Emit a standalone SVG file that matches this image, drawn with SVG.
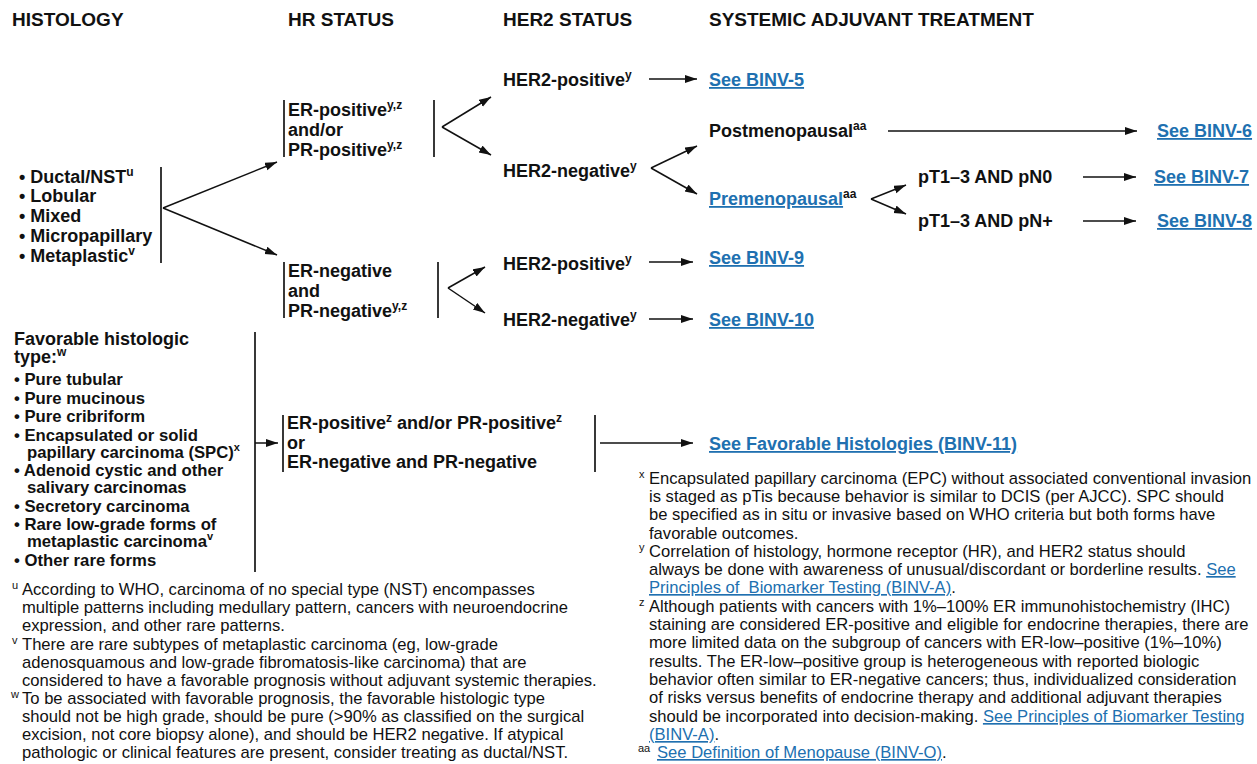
<svg xmlns="http://www.w3.org/2000/svg" width="1257" height="764" viewBox="0 0 1257 764">
<style>
text{font-family:"Liberation Sans",Arial,sans-serif;fill:#111}
.h{font-size:19px;font-weight:bold}
.b{font-size:18px;font-weight:bold}
.l{font-size:16.7px;font-weight:bold}
.f{font-size:16.6px}
.s{font-size:12px}
.fs{font-size:11px}
.lk{fill:#2070b0;text-decoration:underline}
.bar{stroke:#222;stroke-width:1.8;fill:none}
.c{stroke:#111;stroke-width:1.5;fill:none;marker-end:url(#ah)}
</style>
<defs>
<marker id="ah" markerUnits="userSpaceOnUse" markerWidth="13" markerHeight="9" refX="12" refY="4" orient="auto">
<path d="M0,0 L12,4 L0,8 z" fill="#111"/>
</marker>
</defs>
<rect width="1257" height="764" fill="#fff"/>

<g id="headers">
<text class="h" x="12" y="26">HISTOLOGY</text>
<text class="h" x="288" y="26">HR STATUS</text>
<text class="h" x="503" y="26">HER2 STATUS</text>
<text class="h" x="709" y="26">SYSTEMIC ADJUVANT TREATMENT</text>
</g>

<g id="histology">
<line class="bar" x1="161" y1="167" x2="161" y2="263"/>
<text class="b" x="19" y="183">• Ductal/NST<tspan class="s" dy="-7">u</tspan></text>
<text class="b" x="19" y="202">• Lobular</text>
<text class="b" x="19" y="222">• Mixed</text>
<text class="b" x="19" y="242">• Micropapillary</text>
<text class="b" x="19" y="262">• Metaplastic<tspan class="s" dy="-7">v</tspan></text>
</g>

<g id="hr-positive">
<line class="bar" x1="284" y1="100" x2="284" y2="157"/>
<line class="bar" x1="434" y1="100" x2="434" y2="157"/>
<text class="b" x="288" y="116">ER-positive<tspan class="s" dy="-7">y,z</tspan></text>
<text class="b" x="288" y="136">and/or</text>
<text class="b" x="288" y="156">PR-positive<tspan class="s" dy="-7">y,z</tspan></text>
</g>

<g id="hr-negative">
<line class="bar" x1="284" y1="262" x2="284" y2="318"/>
<line class="bar" x1="438" y1="262" x2="438" y2="318"/>
<text class="b" x="288" y="277">ER-negative</text>
<text class="b" x="288" y="297">and</text>
<text class="b" x="288" y="317">PR-negative<tspan class="s" dy="-7">y,z</tspan></text>
</g>

<g id="her2-pos-1"><text class="b" x="503" y="86">HER2-positive<tspan class="s" dy="-7">y</tspan></text></g>
<g id="binv5"><text class="b lk" x="709" y="86">See BINV-5</text></g>
<g id="her2-neg-1"><text class="b" x="503" y="177">HER2-negative<tspan class="s" dy="-7">y</tspan></text></g>
<g id="postmeno"><text class="b" x="709" y="137">Postmenopausal<tspan class="s" dy="-7">aa</tspan></text></g>
<g id="binv6"><text class="b lk" x="1157" y="137">See BINV-6</text></g>
<g id="premeno"><text class="b" x="709" y="205"><tspan class="lk">Premenopausal</tspan><tspan class="s" dy="-7">aa</tspan></text></g>
<g id="pn0"><text class="b" x="918" y="183">pT1–3 AND pN0</text></g>
<g id="pnplus"><text class="b" x="918" y="227">pT1–3 AND pN+</text></g>
<g id="binv7"><text class="b lk" x="1154" y="183">See BINV-7</text></g>
<g id="binv8"><text class="b lk" x="1157" y="227">See BINV-8</text></g>
<g id="her2-pos-2"><text class="b" x="503" y="270">HER2-positive<tspan class="s" dy="-7">y</tspan></text></g>
<g id="binv9"><text class="b lk" x="709" y="264">See BINV-9</text></g>
<g id="her2-neg-2"><text class="b" x="503" y="326">HER2-negative<tspan class="s" dy="-7">y</tspan></text></g>
<g id="binv10"><text class="b lk" x="709" y="326">See BINV-10</text></g>

<g id="favorable">
<line class="bar" x1="255" y1="332" x2="255" y2="572"/>
<text class="b" x="14" y="345">Favorable histologic</text>
<text class="b" x="14" y="363">type:<tspan class="s" dy="-7">w</tspan></text>
<text class="l" x="14" y="385">• Pure tubular</text>
<text class="l" x="14" y="403.5">• Pure mucinous</text>
<text class="l" x="14" y="422">• Pure cribriform</text>
<text class="l" x="14" y="440.5">• Encapsulated or solid</text>
<text class="l" x="27" y="457.5">papillary carcinoma (SPC)<tspan class="fs" dy="-7">x</tspan></text>
<text class="l" x="14" y="476">• Adenoid cystic and other</text>
<text class="l" x="27" y="493">salivary carcinomas</text>
<text class="l" x="14" y="511.5">• Secretory carcinoma</text>
<text class="l" x="14" y="529.5">• Rare low-grade forms of</text>
<text class="l" x="27" y="547">metaplastic carcinoma<tspan class="fs" dy="-7">v</tspan></text>
<text class="l" x="14" y="566">• Other rare forms</text>
</g>

<g id="fav-hr">
<line class="bar" x1="283" y1="415" x2="283" y2="472"/>
<line class="bar" x1="595" y1="415" x2="595" y2="472"/>
<text class="b" x="287" y="429">ER-positive<tspan class="s" dy="-7">z</tspan><tspan dy="7"> and/or PR-positive</tspan><tspan class="s" dy="-7">z</tspan></text>
<text class="b" x="287" y="449">or</text>
<text class="b" x="287" y="468">ER-negative and PR-negative</text>
</g>
<g id="binv11"><text class="b lk" x="709" y="450">See Favorable Histologies (BINV-11)</text></g>

<g id="connectors">
<line class="c" x1="163" y1="208" x2="277" y2="162"/>
<line class="c" x1="163" y1="208" x2="277" y2="255"/>
<line class="c" x1="442" y1="127" x2="491" y2="97"/>
<line class="c" x1="442" y1="127" x2="491" y2="155"/>
<line class="c" x1="649" y1="79" x2="697" y2="79"/>
<line class="c" x1="651" y1="168" x2="697" y2="146"/>
<line class="c" x1="651" y1="168" x2="697" y2="194"/>
<line class="c" x1="888" y1="131" x2="1137" y2="131"/>
<line class="c" x1="871" y1="199" x2="906" y2="185"/>
<line class="c" x1="871" y1="199" x2="906" y2="214"/>
<line class="c" x1="1083" y1="177" x2="1136" y2="177"/>
<line class="c" x1="1083" y1="221" x2="1136" y2="221"/>
<line class="c" x1="448" y1="288" x2="485" y2="267"/>
<line class="c" x1="448" y1="288" x2="485" y2="313"/>
<line class="c" x1="649" y1="262" x2="693" y2="262"/>
<line class="c" x1="649" y1="319" x2="693" y2="319"/>
<line class="c" x1="255" y1="443" x2="278" y2="443"/>
<line class="c" x1="600" y1="443" x2="693" y2="443"/>
</g>

<g id="footnotes-left">
<text class="fs" x="12" y="589">u</text>
<text class="f" x="22" y="595">According to WHO, carcinoma of no special type (NST) encompasses</text>
<text class="f" x="22" y="613">multiple patterns including medullary pattern, cancers with neuroendocrine</text>
<text class="f" x="22" y="631">expression, and other rare patterns.</text>
<text class="fs" x="12" y="644">v</text>
<text class="f" x="22" y="650">There are rare subtypes of metaplastic carcinoma (eg, low-grade</text>
<text class="f" x="22" y="668">adenosquamous and low-grade fibromatosis-like carcinoma) that are</text>
<text class="f" x="22" y="686">considered to have a favorable prognosis without adjuvant systemic therapies.</text>
<text class="fs" x="11" y="698">w</text>
<text class="f" x="22" y="704">To be associated with favorable prognosis, the favorable histologic type</text>
<text class="f" x="22" y="722">should not be high grade, should be pure (&gt;90% as classified on the surgical</text>
<text class="f" x="22" y="740">excision, not core biopsy alone), and should be HER2 negative. If atypical</text>
<text class="f" x="22" y="758">pathologic or clinical features are present, consider treating as ductal/NST.</text>
</g>

<g id="footnotes-right">
<text class="fs" x="639" y="478">x</text>
<text class="f" x="649" y="484">Encapsulated papillary carcinoma (EPC) without associated conventional invasion</text>
<text class="f" x="649" y="502">is staged as pTis because behavior is similar to DCIS (per AJCC). SPC should</text>
<text class="f" x="649" y="520">be specified as in situ or invasive based on WHO criteria but both forms have</text>
<text class="f" x="649" y="539">favorable outcomes.</text>
<text class="fs" x="639" y="551">y</text>
<text class="f" x="649" y="557">Correlation of histology, hormone receptor (HR), and HER2 status should</text>
<text class="f" x="649" y="575">always be done with awareness of unusual/discordant or borderline results. <tspan class="lk">See </tspan></text>
<text class="f" x="649" y="593" xml:space="preserve"><tspan class="lk">Principles of  Biomarker Testing (BINV-A)</tspan>.</text>
<text class="fs" x="639" y="606">z</text>
<text class="f" x="649" y="612">Although patients with cancers with 1%–100% ER immunohistochemistry (IHC)</text>
<text class="f" x="649" y="630">staining are considered ER-positive and eligible for endocrine therapies, there are</text>
<text class="f" x="649" y="648">more limited data on the subgroup of cancers with ER-low–positive (1%–10%)</text>
<text class="f" x="649" y="667">results. The ER-low–positive group is heterogeneous with reported biologic</text>
<text class="f" x="649" y="685">behavior often similar to ER-negative cancers; thus, individualized consideration</text>
<text class="f" x="649" y="703">of risks versus benefits of endocrine therapy and additional adjuvant therapies</text>
<text class="f" x="649" y="722">should be incorporated into decision-making. <tspan class="lk">See Principles of Biomarker Testing </tspan></text>
<text class="f" x="649" y="740"><tspan class="lk">(BINV-A)</tspan>.</text>
<text class="fs" x="638" y="752">aa</text>
<text class="f" x="657" y="758"><tspan class="lk">See Definition of Menopause (BINV-O)</tspan>.</text>
</g>
</svg>
